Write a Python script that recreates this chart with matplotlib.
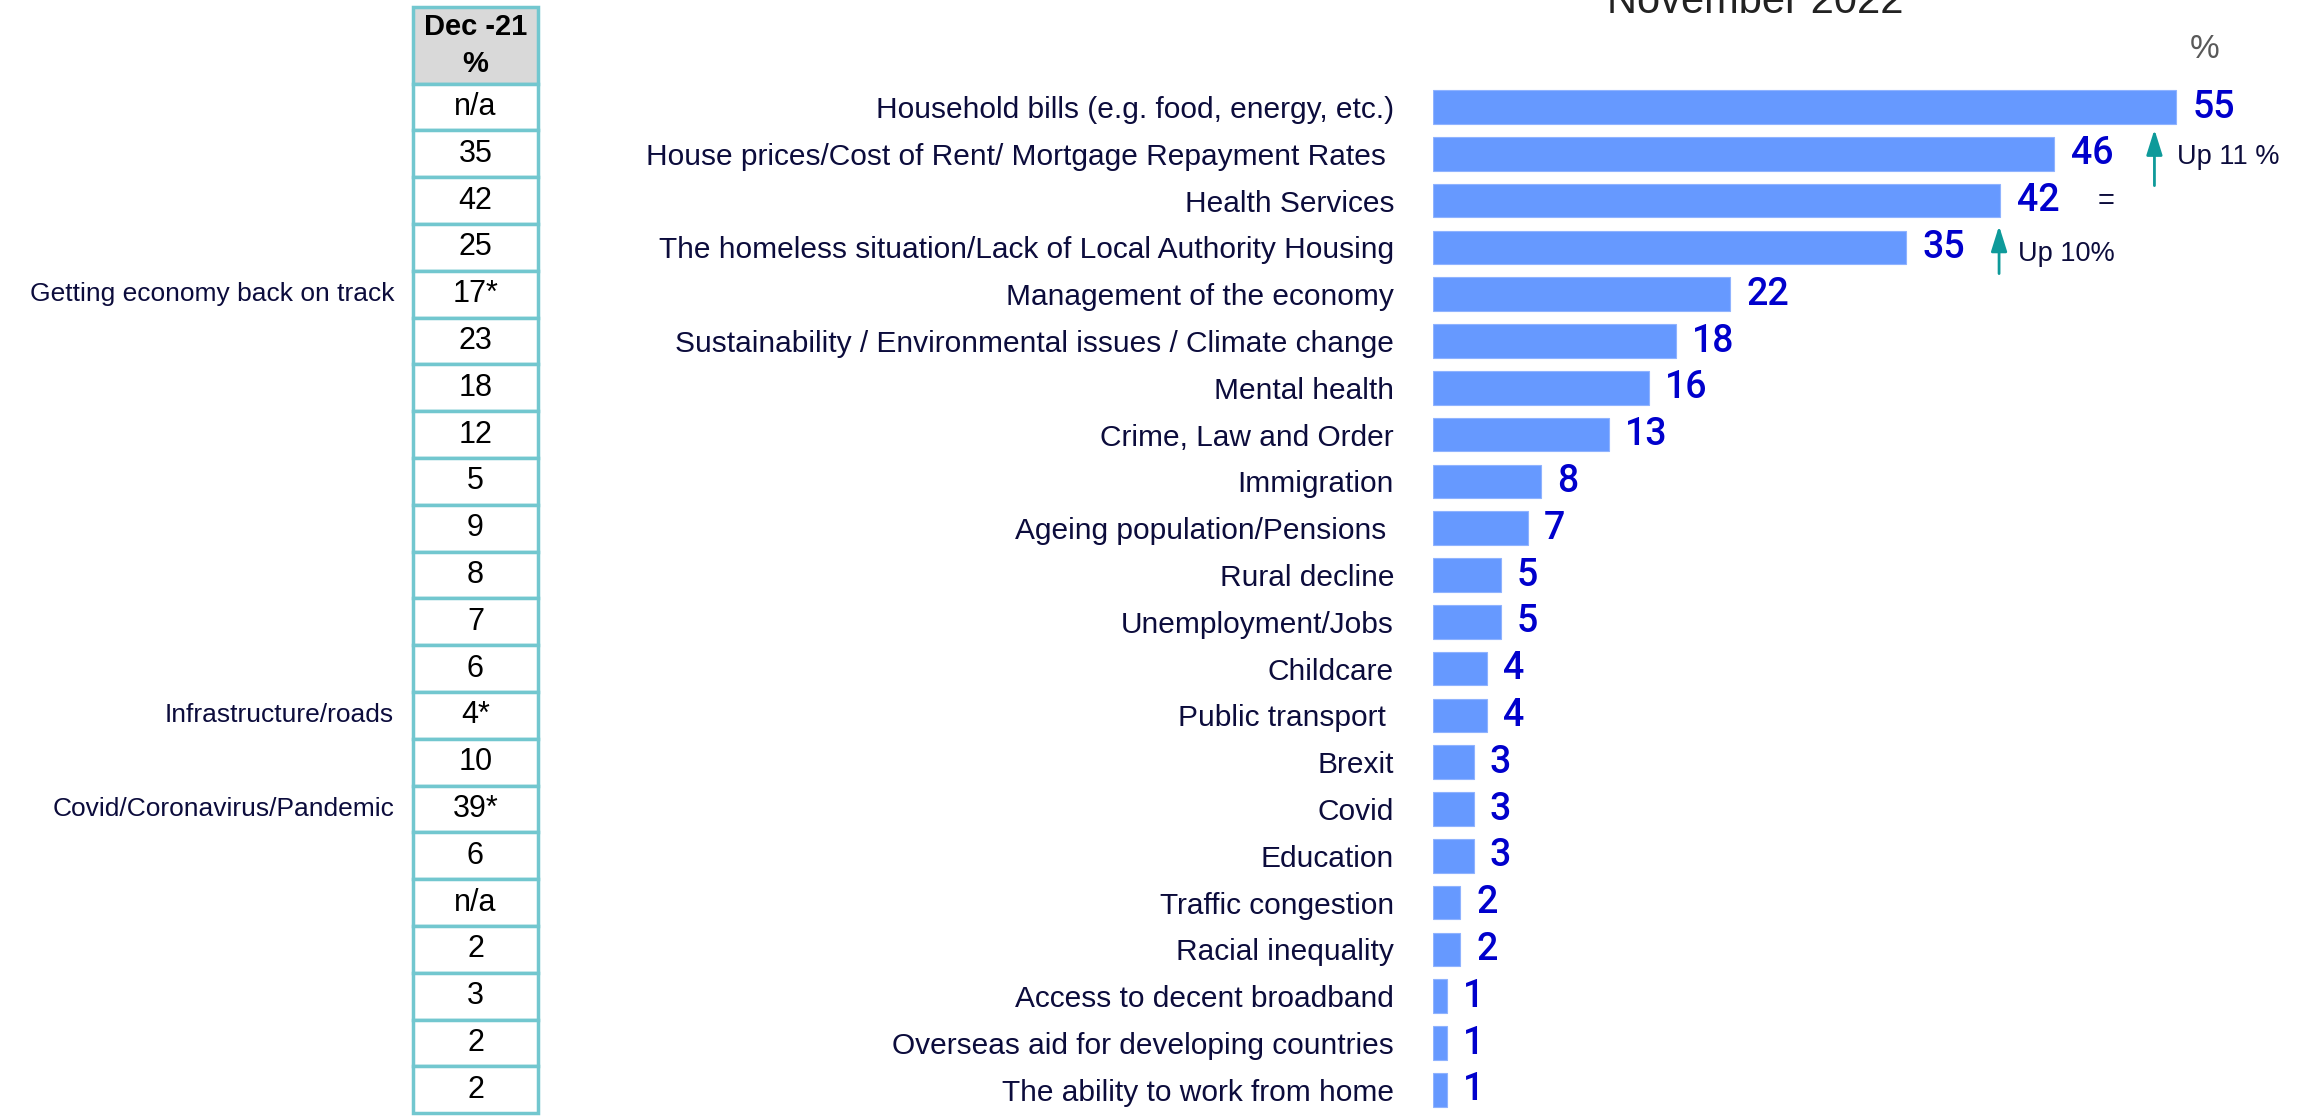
import numpy as np
import matplotlib.pyplot as plt
from matplotlib.patches import Rectangle
import matplotlib.transforms as mtransforms

plt.rcParams['font.family'] = ['Liberation Sans', 'DejaVu Sans']

# November 2022 issues (%)
issues = ['Household bills (e.g. food, energy, etc.)',
          'House prices/Cost of Rent/ Mortgage Repayment Rates ',
          'Health Services',
          'The homeless situation/Lack of Local Authority Housing',
          'Management of the economy',
          'Sustainability / Environmental issues / Climate change',
          'Mental health',
          'Crime, Law and Order',
          'Immigration',
          'Ageing population/Pensions ',
          'Rural decline',
          'Unemployment/Jobs',
          'Childcare',
          'Public transport ',
          'Brexit',
          'Covid',
          'Education',
          'Traffic congestion',
          'Racial inequality',
          'Access to decent broadband',
          'Overseas aid for developing countries',
          'The ability to work from home']
nov22 = [55, 46, 42, 35, 22, 18, 16, 13, 8, 7, 5, 5, 4, 4, 3, 3, 3, 2, 2, 1, 1, 1]

# December 2021 comparison column
dec21 = ['n/a', '35', '42', '25', '17*', '23', '18', '12', '5', '9', '8', '7',
         '6', '4*', '10', '39*', '6', 'n/a', '2', '3', '2', '2']
# older wording for a few items
old_names = {4: 'Getting economy back on track',
             13: 'Infrastructure/roads',
             15: 'Covid/Coronavirus/Pandemic'}

# change notes: (row, text)
changes = [(1, 'Up 11 %'), (3, 'Up 10%')]

W, H = 2305, 1120
bar_col = '#6699FF'
val_col = '#0000CC'
navy = '#0C0C3C'
teal = '#0E9A9A'
grid_col = '#72C7CF'

fig = plt.figure(figsize=(W / 100, H / 100), dpi=100)

n = len(issues)
row0 = 107.0   # pixel centre of first row
step = 46.8    # pixel spacing between rows
ylim = ((H - row0) / step, -row0 / step)

# bars
ax = fig.add_axes([1433 / W, 0, (W - 1433) / W, 1])
px_unit = 13.51
ax.set_xlim(0, (W - 1433) / px_unit)
ax.set_ylim(*ylim)
y = np.arange(n)
ax.barh(y, nov22, height=0.72, color=bar_col, edgecolor='#8FB3FF', linewidth=0.8)
for i, v in enumerate(nov22):
    ax.text(v + 1.2, i, str(v), va='center', ha='left', fontsize=27, color=val_col,
            family=['Roboto', 'Liberation Sans'], fontweight='medium')
ax.set_yticks(y)
ax.set_yticklabels(issues, fontsize=21.5, color=navy)
ax.tick_params(axis='y', length=0, pad=28)
ax.set_xticks([])
for s in ax.spines.values():
    s.set_visible(False)

# arrows and notes beside the top bars
arrow = dict(arrowstyle='-|>,head_length=0.7,head_width=0.22', color=teal,
             lw=2, mutation_scale=22, shrinkA=0, shrinkB=0)
ax.annotate('', xy=(53.4, 0.48), xytext=(53.4, 1.68), arrowprops=arrow)
ax.annotate('', xy=(41.9, 2.54), xytext=(41.9, 3.56), arrowprops=arrow)
ax.text(55.1, 1.07, changes[0][1], fontsize=19.5, color=navy, va='center', ha='left')
ax.text(43.3, 3.14, changes[1][1], fontsize=19.5, color=navy, va='center', ha='left')
ax.text(49.8, 2.0, '=', fontsize=21, color=navy, va='center', ha='center')

fig.text(1755 / W, 1 - 13 / H, 'November 2022', fontsize=30, color='#222222',
         ha='center', va='baseline')
fig.text(2205 / W, 1 - 50 / H, '%', fontsize=24, color='#595959',
         ha='center', va='center')

# Dec-21 table
tab = fig.add_axes([413 / W, 0, 125 / W, 1], sharey=ax)
tab.set_xlim(0, 1)
tab.axis('off')
head_top = (7 - row0) / step
tab.add_patch(Rectangle((0, head_top), 1, -0.5 - head_top, facecolor='#D9D9D9',
                        edgecolor=grid_col, linewidth=2.5, clip_on=False))
tab.text(0.5, (head_top - 0.5) / 2, 'Dec -21\n%', ha='center', va='center',
         fontsize=21, fontweight='bold', color='black', linespacing=1.4)
for i, s in enumerate(dec21):
    tab.add_patch(Rectangle((0, i - 0.5), 1, 1, facecolor='white',
                            edgecolor=grid_col, linewidth=2.5, clip_on=False))
    tab.text(0.5, i, s, ha='center', va='center', fontsize=22, color='black')

trans = mtransforms.blended_transform_factory(tab.transAxes, tab.transData)
for i, name in old_names.items():
    tab.text(-0.15, i, name, transform=trans, ha='right', va='center',
             fontsize=19, color=navy)

fig.savefig('out.png', dpi=100)
